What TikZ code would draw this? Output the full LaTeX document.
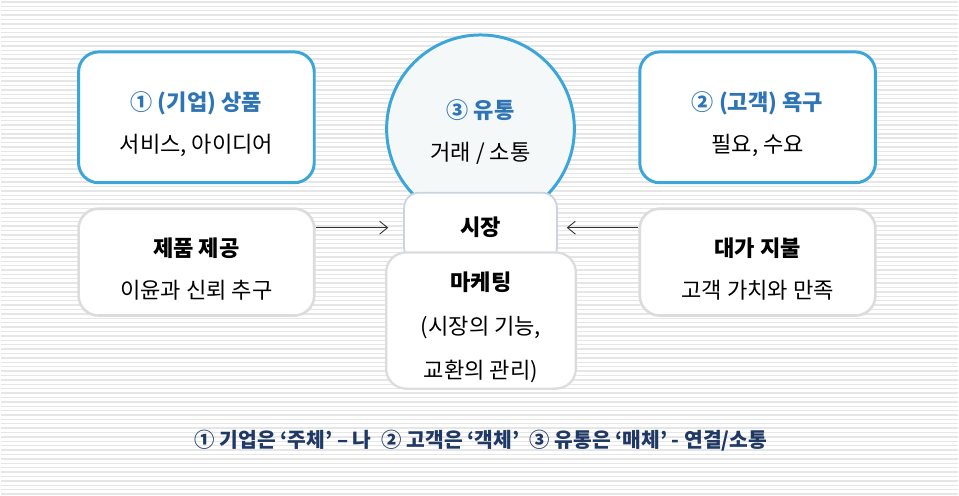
\documentclass[tikz,border=0pt]{standalone}
\usepackage{fontspec}
\setmainfont{Noto Sans CJK KR}
\usepackage{xcolor}
\definecolor{edgeblue}{HTML}{3DA6D9}
\definecolor{titleblue}{HTML}{2F75B5}
\definecolor{navyblue}{HTML}{1F3864}
\definecolor{boxgray}{HTML}{DCDCDC}
\definecolor{marketgray}{HTML}{C8D4E0}
\definecolor{circfill}{HTML}{F4F8F8}
\definecolor{stripegray}{HTML}{E6E6E6}
\usetikzlibrary{arrows.meta, positioning}
\newcommand{\toplift}{\rule{0pt}{0.65cm}}

\begin{document}
\begin{tikzpicture}[
	keybox/.style={rectangle, draw=edgeblue, line width=1.7pt, fill=white, rounded corners=0.4cm, align=center,
	               minimum width=4.72cm, minimum height=2.62cm, font=\fontsize{12.6}{24}\selectfont},
	sidebox/.style={rectangle, draw=boxgray, line width=1.5pt, fill=white, rounded corners=0.4cm, align=center,
	                minimum width=4.72cm, minimum height=2.14cm, font=\fontsize{12.6}{24}\selectfont},
	flowcirc/.style={circle, draw=edgeblue, line width=1.7pt, fill=circfill, minimum size=3.76cm, inner sep=0pt},
	marketbox/.style={rectangle, draw=marketgray, line width=1pt, fill=white, rounded corners=0.3cm,
	                  minimum width=3.06cm, minimum height=1.4cm, font=\fontsize{12.6}{14}\selectfont\bfseries},
	mktbox/.style={rectangle, draw=boxgray, line width=1.3pt, fill=white, rounded corners=0.4cm, align=center,
	               minimum width=3.8cm, minimum height=2.72cm, font=\fontsize{12.6}{25}\selectfont},
	arr/.style={-{Straight Barb[length=1.6mm, width=2.6mm]}, draw=black!80, line width=0.5pt}
	]
\fill[white] (0,0) rectangle (19.18,-9.92);
\foreach \i in {0,...,112}
	\draw[stripegray, line width=0.8pt] (0,-0.04-\i*0.088) -- (19.18,-0.04-\i*0.088);
\useasboundingbox (0,0) rectangle (19.18,-9.92);

\node[keybox] (prod) at (3.92,-2.35) {\toplift{\bfseries\color{titleblue}① (기업) 상품}\\ 서비스, 아이디어};
\node[keybox] (need) at (15.16,-2.35) {\toplift{\bfseries\color{titleblue}② (고객) 욕구}\\ 필요, 수요};
\node[flowcirc, align=center, font=\fontsize{12.6}{24}\selectfont] (flow) at (9.61,-2.58)
	{\rule{0pt}{0.5cm}{\bfseries\color{titleblue}③ 유통}\\ 거래 / 소통};

\node[marketbox] (market) at (9.61,-4.56) {시장};
\node[mktbox] (mkt) at (9.62,-6.42) {\toplift\textbf{마케팅}\\ (시장의 기능,\\ 교환의 관리)};

\node[sidebox] (offer) at (3.92,-5.25) {\toplift\textbf{제품 제공}\\ 이윤과 신뢰 추구};
\node[sidebox] (pay) at (15.16,-5.25) {\toplift\textbf{대가 지불}\\ 고객 가치와 만족};

\draw[arr, shorten >=0.3cm] (offer.east |- market.west) -- (market.west);
\draw[arr, shorten >=0.18cm] (pay.west |- market.east) -- (market.east);

\node[font=\fontsize{11.6}{13}\selectfont\bfseries, text=navyblue] (note) at (9.62,-8.82)
	{① 기업은 ‘주체’ – 나\enspace ② 고객은 ‘객체’\enspace ③ 유통은 ‘매체’ - 연결/소통};
\end{tikzpicture}
\end{document}
